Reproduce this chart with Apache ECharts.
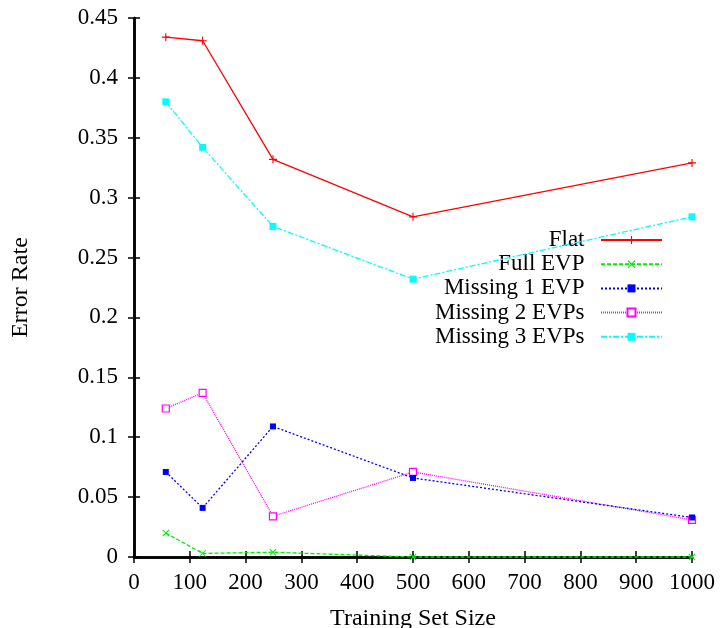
<!DOCTYPE html>
<html>
<head>
<meta charset="utf-8">
<title>Error Rate vs Training Set Size</title>
<script src="https://cdn.jsdelivr.net/npm/echarts@6/dist/echarts.min.js"></script>
<style>
	html, body { margin: 0; padding: 0; background: #fff; }
	#chartWrap { width: 722px; height: 628px; }
</style>
</head>
<body>
<div id="chartWrap"></div>
<script>
// 数据
var sizes = [57, 123, 249, 500, 1000];
var seriesNames = ['Flat', 'Full EVP', 'Missing 1 EVP', 'Missing 2 EVPs', 'Missing 3 EVPs'];
var flat = [0.434, 0.431, 0.332, 0.284, 0.329];
var fullEvp = [0.020, 0.003, 0.004, 0, 0];
var missing1 = [0.071, 0.041, 0.109, 0.066, 0.033];
var missing2 = [0.124, 0.137, 0.034, 0.071, 0.031];
var missing3 = [0.380, 0.342, 0.276, 0.232, 0.284];
var xTicks = [0, 100, 200, 300, 400, 500, 600, 700, 800, 900, 1000];
var yTicks = ['0', '0.05', '0.1', '0.15', '0.2', '0.25', '0.3', '0.35', '0.4', '0.45'];

var font = '"Liberation Serif", "Times New Roman", serif';

var pairs = function(ys){
	return sizes.map(function(x, i){ return [x, ys[i]]; });
};

//gnuplot 风格的点
var plusPath = 'path://M4.3,0H5.7V4.3H10V5.7H5.7V10H4.3V5.7H0V4.3H4.3Z';
var crossPath = 'path://M0,1L1,0L5,4L9,0L10,1L6,5L10,9L9,10L5,6L1,10L0,9L4,5Z';

var styles = [
	{color: '#ff0000', type: 'solid', symbol: plusPath, size: 8},
	{color: '#00ee00', type: [4, 2], symbol: crossPath, size: 7},
	{color: '#0000ff', type: [2, 2], symbol: 'rect', size: 6},
	{color: '#ff00ff', type: [1, 1], symbol: 'rect', size: 7, hollow: true},
	{color: '#00ffff', type: [6, 2, 2, 2], symbol: 'rect', size: 7}
];
var values = [flat, fullEvp, missing1, missing2, missing3];

var initChart = function(){
	var myChart = echarts.init(document.getElementById('chartWrap'));

	var series = [];
	var legends = [];
	seriesNames.forEach(function(name, i){
		var s = styles[i];
		series.push({
			name: name,
			type: 'line',
			data: pairs(values[i]),
			symbol: s.symbol,
			symbolSize: s.size,
			showAllSymbol: true,
			clip: false,
			lineStyle: {color: s.color, width: 1.3, type: s.type},
			itemStyle: s.hollow ?
				{color: '#fff', borderColor: s.color, borderWidth: 1.2} :
				{color: s.color, borderWidth: 0},
			emphasis: {disabled: true},
			z: 10 - i
		});
		// 每个图例单独放, 让线段右对齐
		legends.push({
			data: [name],
			right: 59,
			top: 240 + i * 24.2 - 11.5,
			padding: 0,
			align: 'right',
			orient: 'vertical',
			itemWidth: 61,
			itemHeight: 10,
			selectedMode: false,
			formatter: function(n){ return n + '  '; },
			textStyle: {fontSize: 23, fontFamily: font, color: '#000'}
		});
	});

	var frame = {lineStyle: {color: '#000', width: 2.5}};
	var tick = {show: true, inside: true, length: 6, lineStyle: {color: '#000', width: 1.5}};

	var option = {
		backgroundColor: '#fff',
		animation: false,
		legend: legends,
		grid: {left: 134, right: 30, top: 18, bottom: 71, containLabel: false, outerBoundsMode: 'none'},
		xAxis: [
			{
				type: 'value',
				min: 0, max: 1000, interval: 100,
				name: 'Training Set Size',
				nameLocation: 'middle',
				nameGap: 50,
				nameTextStyle: {fontSize: 24, fontFamily: font, color: '#000'},
				axisLine: frame,
				axisTick: tick,
				splitLine: {show: false},
				axisLabel: {
					margin: 14, fontSize: 23, fontFamily: font, color: '#000',
					formatter: function(v){ return xTicks.indexOf(v) >= 0 ? String(v) : ''; }
				}
			},
			{
				type: 'value', position: 'top',
				min: 0, max: 1000, interval: 100,
				axisLine: frame, axisTick: tick,
				axisLabel: {show: false}, splitLine: {show: false}
			}
		],
		yAxis: [
			{
				type: 'value',
				min: 0, max: 0.45, interval: 0.05,
				name: 'Error Rate',
				nameLocation: 'middle',
				nameGap: 101,
				nameRotate: 90,
				nameTextStyle: {fontSize: 24, fontFamily: font, color: '#000'},
				axisLine: frame,
				axisTick: tick,
				splitLine: {show: false},
				axisLabel: {
					margin: 16, fontSize: 23, fontFamily: font, color: '#000',
					formatter: function(v){ return yTicks[Math.round(v / 0.05)]; }
				}
			},
			{
				type: 'value', position: 'right',
				min: 0, max: 0.45, interval: 0.05,
				axisLine: frame, axisTick: tick,
				axisLabel: {show: false}, splitLine: {show: false}
			}
		],
		series: series
	};

	myChart.setOption(option);
};

initChart();
</script>
</body>
</html>
